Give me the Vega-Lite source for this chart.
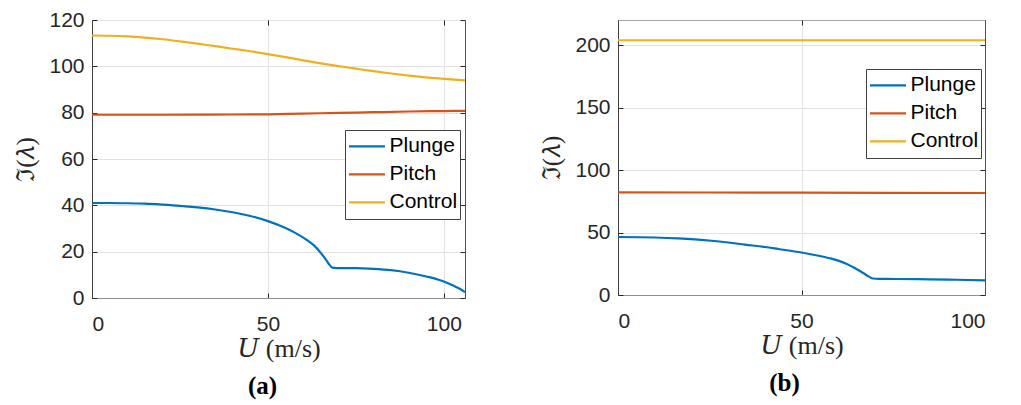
{
  "$schema": "https://vega.github.io/schema/vega-lite/v6.json",
  "padding": {"left": 13, "top": 8, "right": 0, "bottom": 0},
  "bounds": "flush",
  "spacing": 153,
  "config": {
    "font": "Liberation Sans",
    "view": {"stroke": "#a6a6a6", "strokeWidth": 1},
    "axis": {
      "gridColor": "#e2e2e2", "gridWidth": 1, "domainColor": "#404040", "domainWidth": 1,
      "tickColor": "#262626", "tickSize": -5, "labelColor": "#262626", "labelFontSize": 21,
      "labelFont": "Liberation Sans", "titleColor": "#262626", "titleFont": "Liberation Serif, DejaVu Serif",
      "titleFontSize": 26, "titleFontWeight": "normal"
    },
    "legend": {
      "orient": "none", "fillColor": "white", "strokeColor": "#404040", "padding": 2.5,
      "labelFontSize": 21, "labelColor": "#000000", "labelFont": "Liberation Sans",
      "symbolType": "stroke", "symbolStrokeWidth": 2.2, "symbolSize": 1296, "labelOffset": 3,
      "rowPadding": 0, "clipHeight": 27.7
    }
  },
  "datasets": {
    "a": [
      {"u": 0, "v": 41.0, "s": "Plunge"}, {"u": 5, "v": 41.0, "s": "Plunge"}, {"u": 10, "v": 40.9, "s": "Plunge"},
      {"u": 15, "v": 40.7, "s": "Plunge"}, {"u": 20, "v": 40.3, "s": "Plunge"}, {"u": 25, "v": 39.8, "s": "Plunge"},
      {"u": 30, "v": 39.1, "s": "Plunge"}, {"u": 35, "v": 38.2, "s": "Plunge"}, {"u": 40, "v": 37.0, "s": "Plunge"},
      {"u": 45, "v": 35.4, "s": "Plunge"}, {"u": 50, "v": 33.2, "s": "Plunge"}, {"u": 55, "v": 30.2, "s": "Plunge"},
      {"u": 58, "v": 27.9, "s": "Plunge"}, {"u": 61, "v": 25.1, "s": "Plunge"}, {"u": 63, "v": 22.8, "s": "Plunge"},
      {"u": 65, "v": 19.5, "s": "Plunge"}, {"u": 66.5, "v": 16.5, "s": "Plunge"}, {"u": 67.5, "v": 14.3, "s": "Plunge"},
      {"u": 68.3, "v": 13.1, "s": "Plunge"}, {"u": 69.5, "v": 12.9, "s": "Plunge"}, {"u": 75, "v": 12.9, "s": "Plunge"},
      {"u": 80, "v": 12.6, "s": "Plunge"}, {"u": 85, "v": 12.0, "s": "Plunge"}, {"u": 90, "v": 10.9, "s": "Plunge"},
      {"u": 95, "v": 9.3, "s": "Plunge"}, {"u": 98.5, "v": 7.9, "s": "Plunge"}, {"u": 101, "v": 6.5, "s": "Plunge"},
      {"u": 103, "v": 5.1, "s": "Plunge"}, {"u": 104.5, "v": 4.0, "s": "Plunge"}, {"u": 106, "v": 2.5, "s": "Plunge"},
      {"u": 0, "v": 79.1, "s": "Pitch"}, {"u": 20, "v": 79.1, "s": "Pitch"}, {"u": 40, "v": 79.2, "s": "Pitch"},
      {"u": 50, "v": 79.3, "s": "Pitch"}, {"u": 60, "v": 79.6, "s": "Pitch"}, {"u": 70, "v": 79.9, "s": "Pitch"},
      {"u": 80, "v": 80.2, "s": "Pitch"}, {"u": 90, "v": 80.5, "s": "Pitch"}, {"u": 100, "v": 80.7, "s": "Pitch"},
      {"u": 106, "v": 80.8, "s": "Pitch"},
      {"u": 0, "v": 113.3, "s": "Control"}, {"u": 5, "v": 113.2, "s": "Control"}, {"u": 10, "v": 112.9, "s": "Control"},
      {"u": 15, "v": 112.4, "s": "Control"}, {"u": 20, "v": 111.7, "s": "Control"}, {"u": 25, "v": 110.8, "s": "Control"},
      {"u": 30, "v": 109.8, "s": "Control"}, {"u": 35, "v": 108.7, "s": "Control"}, {"u": 40, "v": 107.6, "s": "Control"},
      {"u": 45, "v": 106.5, "s": "Control"}, {"u": 50, "v": 105.3, "s": "Control"}, {"u": 55, "v": 104.0, "s": "Control"},
      {"u": 60, "v": 102.6, "s": "Control"}, {"u": 65, "v": 101.3, "s": "Control"}, {"u": 70, "v": 100.1, "s": "Control"},
      {"u": 75, "v": 99.0, "s": "Control"}, {"u": 80, "v": 97.9, "s": "Control"}, {"u": 85, "v": 96.9, "s": "Control"},
      {"u": 90, "v": 96.0, "s": "Control"}, {"u": 95, "v": 95.2, "s": "Control"}, {"u": 100, "v": 94.6, "s": "Control"},
      {"u": 106, "v": 93.9, "s": "Control"}
    ],
    "b": [
      {"u": 0, "v": 46.4, "s": "Plunge"}, {"u": 10, "v": 46.0, "s": "Plunge"}, {"u": 16.4, "v": 45.3, "s": "Plunge"},
      {"u": 20, "v": 44.7, "s": "Plunge"}, {"u": 25.5, "v": 43.4, "s": "Plunge"}, {"u": 30, "v": 42.0, "s": "Plunge"},
      {"u": 34.6, "v": 40.3, "s": "Plunge"}, {"u": 40, "v": 38.4, "s": "Plunge"}, {"u": 43.7, "v": 36.8, "s": "Plunge"},
      {"u": 50, "v": 34.0, "s": "Plunge"}, {"u": 54, "v": 31.8, "s": "Plunge"}, {"u": 57.7, "v": 29.4, "s": "Plunge"},
      {"u": 60, "v": 27.5, "s": "Plunge"}, {"u": 62.2, "v": 25.0, "s": "Plunge"}, {"u": 64.5, "v": 21.6, "s": "Plunge"},
      {"u": 66.8, "v": 17.6, "s": "Plunge"}, {"u": 68.5, "v": 14.5, "s": "Plunge"}, {"u": 69.5, "v": 13.2, "s": "Plunge"},
      {"u": 71, "v": 12.9, "s": "Plunge"}, {"u": 75.9, "v": 12.8, "s": "Plunge"}, {"u": 85, "v": 12.5, "s": "Plunge"},
      {"u": 92, "v": 12.2, "s": "Plunge"}, {"u": 100, "v": 11.7, "s": "Plunge"},
      {"u": 0, "v": 82.1, "s": "Pitch"}, {"u": 50, "v": 81.9, "s": "Pitch"}, {"u": 100, "v": 81.6, "s": "Pitch"},
      {"u": 0, "v": 203.8, "s": "Control"}, {"u": 100, "v": 203.8, "s": "Control"}
    ]
  },
  "resolve": {"scale": {"color": "independent"}, "legend": {"color": "independent"}},
  "hconcat": [
    {
      "width": 373, "height": 278,
      "data": {"name": "a"},
      "title": {"text": "(a)", "orient": "bottom", "anchor": "middle", "font": "Liberation Serif", "fontSize": 25, "fontWeight": "bold", "color": "#000000", "offset": 13, "dx": -16},
      "layer": [
        {
          "mark": {"type": "line", "strokeWidth": 2.2, "clip": true, "interpolate": "monotone"},
          "encoding": {
            "x": {"field": "u", "type": "quantitative", "scale": {"domain": [0, 106], "nice": false, "zero": false},
                  "axis": {"orient": "bottom", "values": [0, 50, 100], "title": "𝑈 (m/s)", "labelPadding": 20, "titlePadding": 1, "grid": true, "domainColor": "#909090"}},
            "y": {"field": "v", "type": "quantitative", "scale": {"domain": [0, 120], "nice": false},
                  "axis": {"orient": "left", "values": [0, 20, 40, 60, 80, 100, 120], "title": "ℑ(𝜆)", "labelPadding": 13, "titlePadding": 10, "titleFontSize": 25, "grid": true}},
            "color": {"field": "s", "type": "nominal", "sort": null,
                      "scale": {"domain": ["Plunge", "Pitch", "Control"], "range": ["#0072BD", "#D95319", "#EDB120"]},
                      "legend": {"title": null, "legendX": 253, "legendY": 110}}
          }
        },
        {
          "mark": {"type": "line", "strokeOpacity": 0},
          "encoding": {
            "x": {"field": "u", "type": "quantitative", "axis": {"orient": "top", "values": [0, 50, 100], "labels": false, "title": null, "grid": false, "domain": false}},
            "y": {"field": "v", "type": "quantitative", "axis": {"orient": "right", "values": [0, 20, 40, 60, 80, 100, 120], "labels": false, "title": null, "grid": false, "domainColor": "#505050"}},
            "detail": {"field": "s"}
          }
        }
      ]
    },
    {
      "width": 367, "height": 275,
      "data": {"name": "b"},
      "title": {"text": "(b)", "orient": "bottom", "anchor": "middle", "font": "Liberation Serif", "fontSize": 25, "fontWeight": "bold", "color": "#000000", "offset": 13, "dx": -17},
      "layer": [
        {
          "mark": {"type": "line", "strokeWidth": 2.2, "clip": true, "interpolate": "monotone"},
          "encoding": {
            "x": {"field": "u", "type": "quantitative", "scale": {"domain": [0, 100], "nice": false, "zero": false},
                  "axis": {"orient": "bottom", "values": [0, 50, 100], "title": "𝑈 (m/s)", "labelPadding": 20, "titlePadding": 1, "grid": true, "domainColor": "#909090"}},
            "y": {"field": "v", "type": "quantitative", "scale": {"domain": [0, 220], "nice": false},
                  "axis": {"orient": "left", "values": [0, 50, 100, 150, 200], "title": "ℑ(𝜆)", "labelPadding": 13, "titlePadding": 10, "titleFontSize": 25, "grid": true}},
            "color": {"field": "s", "type": "nominal", "sort": null,
                      "scale": {"domain": ["Plunge", "Pitch", "Control"], "range": ["#0072BD", "#D95319", "#EDB120"]},
                      "legend": {"title": null, "legendX": 248, "legendY": 49}}
          }
        },
        {
          "mark": {"type": "line", "strokeOpacity": 0},
          "encoding": {
            "x": {"field": "u", "type": "quantitative", "axis": {"orient": "top", "values": [0, 50, 100], "labels": false, "title": null, "grid": false, "domain": false}},
            "y": {"field": "v", "type": "quantitative", "axis": {"orient": "right", "values": [0, 50, 100, 150, 200], "labels": false, "title": null, "grid": false, "domainColor": "#505050"}},
            "detail": {"field": "s"}
          }
        }
      ]
    }
  ]
}
